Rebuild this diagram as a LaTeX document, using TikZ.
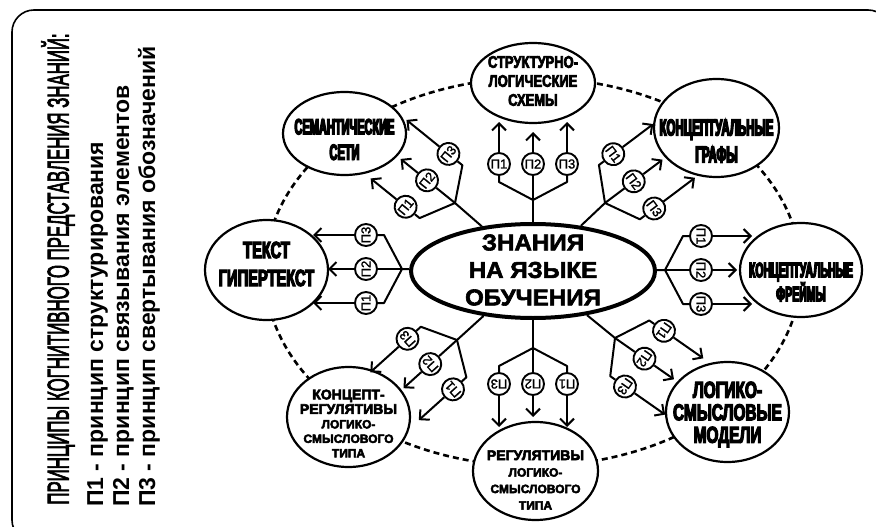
\documentclass[tikz,border=0pt]{standalone}
\usepackage{fontspec}
\setmainfont{Liberation Sans}
\usetikzlibrary{arrows.meta,shapes.geometric}
\newfontfamily\fHalf[FakeStretch=0.5,FakeBold=6]{Liberation Sans}
\newfontfamily\fSix[FakeStretch=0.63,FakeBold=5]{Liberation Sans}
\newfontfamily\fSev[FakeStretch=0.77,FakeBold=4]{Liberation Sans}
\newfontfamily\fMod[FakeStretch=0.67,FakeBold=5]{Liberation Sans}
\newfontfamily\fTit[FakeBold=3.5]{Liberation Sans}
\newfontfamily\fLab[FakeBold=1.5]{Liberation Sans}
\newfontfamily\fHeavy[FakeBold=4]{Liberation Sans}
\newfontfamily\fCtr[FakeStretch=1.05,FakeBold=2.5]{Liberation Sans}
\newcommand\sx[2]{\scalebox{#1}[1]{#2}}
\tikzset{
  outer/.style={ellipse, draw, line width=2.2pt, fill=white, inner sep=0pt},
  pc/.style={circle, draw, line width=1.9pt, fill=white, inner sep=0pt, minimum size=22pt,
    font=\fLab\fontsize{13}{13}\selectfont},
  ln/.style={line width=2pt, line join=round},
  ar/.style={line width=2pt, -{Straight Barb[length=7pt,width=14pt]}},
  txt/.style={align=center, inner sep=0pt},
  dashline/.style={line width=2.6pt, dash pattern=on 6pt off 4pt},
  legtxt/.style={rotate=90, anchor=base west, inner sep=0pt},
}
\newcommand\arm[7]{%
  \begin{scope}[shift={(#2,#3)},rotate=#4]
    \coordinate (#1B) at (0,0);
    \coordinate (#1c1) at (18,-34);
    \coordinate (#1c3) at (18,34);
    \node[pc,rotate=#4-90] (#1p1) at (36,-34) {П1};
    \node[pc,rotate=#4-90] (#1p2) at (36,0) {П2};
    \node[pc,rotate=#4-90] (#1p3) at (36,34) {П3};
    \coordinate (#1t1) at (#5,-34);
    \coordinate (#1t2) at (#6,0);
    \coordinate (#1t3) at (#7,34);
  \end{scope}
  \draw[ln] (ctr) -- (#1B);
  \draw[ln] (#1B) -- (#1c1) -- (#1p1);
  \draw[ln] (#1B) -- (#1p2);
  \draw[ln] (#1B) -- (#1c3) -- (#1p3);
  \draw[ar] (#1p1) -- (#1t1);
  \draw[ar] (#1p2) -- (#1t2);
  \draw[ar] (#1p3) -- (#1t3);
}
\begin{document}
\begin{tikzpicture}[x=1pt,y=-1pt]
\useasboundingbox (0,0) rectangle (876,527);
\clip (0,0) rectangle (876,527);
\fill[white] (0,0) rectangle (876,527);
% frame
\draw[line width=1.6pt, rounded corners=22pt] (12,10) rectangle (890,542);
% legend
\node[anchor=center, inner sep=0pt, font=\fTit\fontsize{30}{30}\selectfont] (title) at (58,269) {\rotatebox{90}{\sx{0.56}{ПРИНЦИПЫ КОГНИТИВНОГО ПРЕДСТАВЛЕНИЯ ЗНАНИЙ:}}};
\node[legtxt, font=\bfseries\fontsize{23}{23}\selectfont] (leg1) at (103,507) {П1 - принцип структурирования};
\node[legtxt, font=\bfseries\fontsize{23}{23}\selectfont] (leg2) at (129,507) {П2 - принцип связывания элементов};
\node[legtxt, font=\bfseries\fontsize{23}{23}\selectfont] (leg3) at (155,507) {П3 - принцип свертывания обозначений};
% dashed ring
\draw[dashline] (533,272) ellipse [x radius=268, y radius=194];
% central node
\node[ellipse, draw, line width=4pt, fill=white, minimum width=244pt, minimum height=94pt] (ctr) at (533,271) {};
\node[txt, font=\fCtr\bfseries\fontsize{23}{27.5}\selectfont] (ctrT) at (533,270) {ЗНАНИЯ\\НА ЯЗЫКЕ\\ОБУЧЕНИЯ};
% outer nodes
\node[outer, minimum width=124pt, minimum height=80pt] (str) at (533,83) {};
\node[txt, font=\fSev\bfseries\fontsize{16.8}{19}\selectfont] (strT) at (533,81) {СТРУКТУРНО-\\ЛОГИЧЕСКИЕ\\СХЕМЫ};
\node[outer, minimum width=123pt, minimum height=83pt] (sem) at (344.5,133.5) {};
\node[txt, font=\fHalf\bfseries\fontsize{22}{25.5}\selectfont] (semT) at (344.5,139.5) {СЕМАНТИЧЕСКИЕ\\СЕТИ};
\node[outer, minimum width=125pt, minimum height=98pt] (gra) at (716.5,128) {};
\node[txt, font=\fHalf\bfseries\fontsize{23}{27}\selectfont] (graT) at (716.5,141) {КОНЦЕПТУАЛЬНЫЕ\\ГРАФЫ};
\node[outer, minimum width=122pt, minimum height=94pt] (fre) at (801,270) {};
\node[txt, font=\fHalf\bfseries\fontsize{21}{24}\selectfont] (freT) at (801,282) {КОНЦЕПТУАЛЬНЫЕ\\ФРЕЙМЫ};
\node[outer, minimum width=123pt, minimum height=100pt] (mod) at (727.5,412) {};
\node[txt, font=\fMod\bfseries\fontsize{23}{22.5}\selectfont] (modT) at (727.5,414.5) {ЛОГИКО-\\СМЫСЛОВЫЕ\\МОДЕЛИ};
\node[outer, minimum width=125pt, minimum height=98pt] (reg) at (535.5,471) {};
\node[txt, font=\fHeavy\bfseries\fontsize{12}{16.5}\selectfont] (regT) at (535.5,480) {{\fontsize{14}{16}\selectfont РЕГУЛЯТИВЫ}\\ЛОГИКО-\\СМЫСЛОВОГО\\ТИПА};
\node[outer, minimum width=123pt, minimum height=100pt] (kreg) at (348.5,417) {};
\node[txt, font=\fHeavy\bfseries\fontsize{12}{14.5}\selectfont] (kregT) at (348.5,423.5) {{\fontsize{14}{16}\selectfont КОНЦЕПТ-}\\{\fontsize{14}{16}\selectfont РЕГУЛЯТИВЫ}\\ЛОГИКО-\\СМЫСЛОВОГО\\ТИПА};
\node[outer, minimum width=123pt, minimum height=100pt] (tek) at (266.5,270) {};
\node[txt, font=\fSix\bfseries\fontsize{23.3}{28}\selectfont] (tekT) at (266.5,264) {ТЕКСТ\\ГИПЕРТЕКСТ};
% arms
\arm{a}{533}{200}{90}{78}{68}{78}
\arm{b}{455}{203}{141}{81}{70}{90}
\arm{c}{605}{203}{37}{86}{72}{87}
\arm{d}{665}{270}{0}{87}{72}{87}
\arm{e}{615}{338}{-35}{84}{72}{85}
\arm{f}{533}{348}{-90}{79}{69}{79}
\arm{g}{457}{340}{222}{82}{72}{86}
\arm{h}{402}{269}{180}{89}{74}{89}
\end{tikzpicture}
\end{document}
